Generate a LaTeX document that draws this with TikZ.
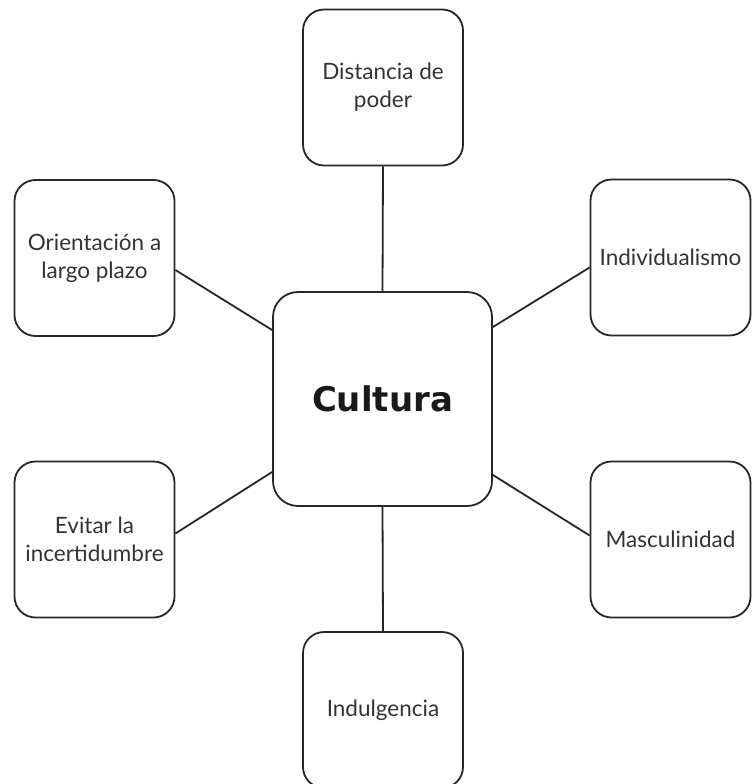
\documentclass[tikz,border=0pt]{standalone}
\usepackage{fontspec}
\setmainfont{Lato}
\newfontfamily\culturafont{DejaVu Sans}
\begin{document}
\begin{tikzpicture}[x=1pt,y=-1pt,
  dimbox/.style={draw=black!85, line width=1.8pt, rounded corners=21pt,
    minimum width=160pt, minimum height=156pt, inner sep=0pt, align=center,
    font=\fontsize{22.5}{28}\selectfont, text=black!80},
  corebox/.style={draw=black!85, line width=1.8pt, rounded corners=25pt,
    minimum width=219pt, minimum height=214pt, inner sep=0pt,
    font=\culturafont\bfseries\fontsize{34}{40}\selectfont, text=black!90},
  link/.style={draw=black!85, line width=1.8pt}]
\useasboundingbox (0,0) rectangle (753,784);
\node[corebox] (c) at (382.5,399) {Cultura};
\node[dimbox] (top) at (383,87.5) {Distancia de\\poder};
\node[dimbox] (lu) at (94.5,258) {Orientación a\\largo plazo};
\node[dimbox] (ru) at (670.5,257.5) {Individualismo};
\node[dimbox] (ll) at (94.5,539.5) {Evitar la\\incertidumbre};
\node[dimbox] (rl) at (670.5,539.5) {Masculinidad};
\node[dimbox] (bot) at (383,710) {Indulgencia};
\draw[link] (top.south) -- (c.north);
\draw[link] (c.south) -- (bot.north);
\draw[link] ([yshift=-12pt]lu.east) -- ([yshift=69pt]c.west);
\draw[link] ([yshift=-10pt]ru.west) -- ([yshift=72pt]c.east);
\draw[link] ([yshift=6pt]ll.east) -- ([yshift=-73pt]c.west);
\draw[link] ([yshift=4pt]rl.west) -- ([yshift=-76pt]c.east);
\end{tikzpicture}
\end{document}
